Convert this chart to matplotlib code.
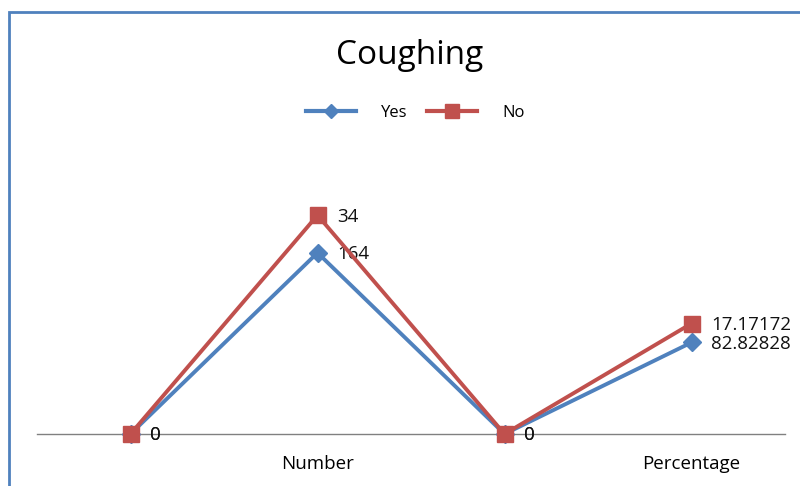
import numpy as np
import matplotlib.pyplot as plt
from matplotlib.patches import Rectangle
from matplotlib.lines import Line2D

categories = ["", "Number", "", "Percentage"]
yes_vals = [0, 164, 0, 82.82828]
no_vals = [0, 34, 0, 17.17172]
yes_labels = ["0", "164", "0", "82.82828"]
no_labels = ["0", "34", "0", "17.17172"]

BLUE = "#4F81BD"
RED = "#C0504D"
plt.rcParams['font.family'] = ['Open Sans', 'DejaVu Sans']

fig = plt.figure(figsize=(8, 4.86), dpi=100)
# chart frame (right/bottom cut off in the original)
fig.patches.append(Rectangle((9 / 800, -0.1), 1.0, 1 - 12 / 486 + 0.1,
                             transform=fig.transFigure, fill=False,
                             edgecolor=BLUE, linewidth=2))

ax = fig.add_axes([37 / 800, 52 / 486, 748 / 800, 276.25 / 486])
x = np.arange(len(categories))
yes = np.array(yes_vals)
no_stack = yes + np.array(no_vals)  # stacked line

ax.plot(x, yes, color=BLUE, lw=2.8, marker="D", ms=9, zorder=3)
ax.plot(x, no_stack, color=RED, lw=2.8, marker="s", ms=12, zorder=4)

for xi, yi, lab in zip(x, yes, yes_labels):
    ax.annotate(lab, (xi, yi), xytext=(14, -1), textcoords="offset points",
                va="center", ha="left", fontsize=13.5, color="#111111")
for xi, yi, lab in zip(x, no_stack, no_labels):
    ax.annotate(lab, (xi, yi), xytext=(14, -1), textcoords="offset points",
                va="center", ha="left", fontsize=13.5, color="#111111")

ax.set_xlim(-0.5, len(categories) - 0.5)
ax.set_ylim(0, 250)
ax.set_xticks(x)
ax.set_xticklabels(categories, fontsize=13.5)
ax.tick_params(axis="x", length=0, pad=15)
ax.set_yticks([])
for s in ["top", "right", "left"]:
    ax.spines[s].set_visible(False)
ax.spines["bottom"].set_color("#808080")
ax.spines["bottom"].set_linewidth(1)
ax.spines["bottom"].set_zorder(1)
for s in ax.spines.values():
    s.set_clip_on(False)
for ln in ax.lines:
    ln.set_clip_on(False)

fig.text(410 / 800, 1 - 55 / 486, "Coughing", ha="center", va="center", fontsize=24)

handles = [Line2D([], [], color=BLUE, lw=3, marker="D", ms=7),
           Line2D([], [], color=RED, lw=3, marker="s", ms=10)]
fig.legend(handles, ["Yes", "No"], loc="center", bbox_to_anchor=(415 / 800, 1 - 113 / 486),
           ncol=2, frameon=False, fontsize=12, handlelength=3, columnspacing=1.2,
           handletextpad=1.5)

fig.savefig("out.png", dpi=100)
